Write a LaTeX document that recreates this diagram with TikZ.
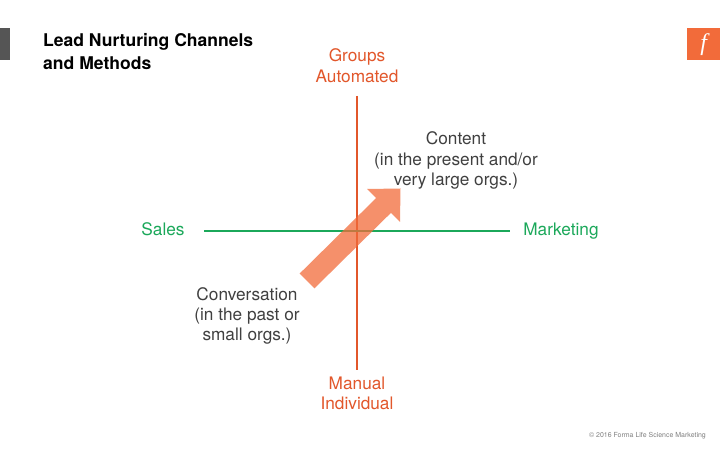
\documentclass[tikz,border=0pt]{standalone}
\usepackage{fontspec}
\setmainfont{TeX Gyre Heros}
\newfontfamily\logofont{Liberation Serif}
\definecolor{axred}{HTML}{E2572B}
\definecolor{axgreen}{HTML}{1BA85A}
\definecolor{txtgray}{HTML}{404040}
\definecolor{arrowor}{HTML}{F26B3A}
\definecolor{bargray}{HTML}{555555}
\tikzset{
  lblfont/.style={font=\fontsize{17.3}{20.5}\selectfont},
  redlbl/.style={lblfont, text=axred, align=center, inner sep=0pt},
  greenlbl/.style={lblfont, text=axgreen, inner sep=0pt, anchor=base},
  graylbl/.style={lblfont, text=txtgray, align=center, inner sep=0pt},
  redaxis/.style={draw=axred, line width=2pt},
  greenaxis/.style={draw=axgreen, line width=2pt},
  bigarrow/.style={fill=arrowor, fill opacity=0.75, draw=none}
}
\begin{document}
\begin{tikzpicture}[x=1bp,y=-1bp]
\useasboundingbox[fill=white] (0,0) rectangle (720,450);
% left bar and logo
\fill[bargray] (0,28) rectangle (10,60);
\node[fill=arrowor, minimum width=33bp, minimum height=32bp, inner sep=0pt, anchor=north west] (logo) at (687,28) {};
\node[text=white, font=\logofont\itshape\fontsize{24}{24}\selectfont, inner sep=0pt] (logof) at (logo.center) {f};
% title
\node[text=black, font=\bfseries\fontsize{17.6}{23}\selectfont, align=left, anchor=north west, inner sep=0pt] (title) at (43,33.5) {Lead Nurturing Channels\\and Methods};
% axes
\coordinate (vtop) at (357,96);
\coordinate (vbot) at (357,370);
\coordinate (hleft) at (204,231);
\coordinate (hright) at (510,231);
\draw[redaxis] (vtop) -- (vbot);
\draw[greenaxis] (hleft) -- (hright);
% arrow
\coordinate (tailc) at (307,281);
\coordinate (tip) at (400.5,188.5);
\fill[bigarrow] (299.6,273.6) -- (376.1,198.1) -- (367,189) -- (tip) -- (400,222) -- (390.9,212.9) -- (314.4,288.4) -- cycle;
% labels
\node[redlbl] (top) at (357,65.5) {Groups\\Automated};
\node[redlbl] (bottom) at (357,393.5) {Manual\\Individual};
\node[greenlbl] (sales) at (163,236) {Sales};
\node[greenlbl] (mkt) at (561,236) {Marketing};
\node[graylbl] (content) at (456,160.5) {Content\\(in the present and/or\\very large orgs.)};
\node[graylbl] (conv) at (247,316) {Conversation\\(in the past or\\small orgs.)};
\node[text=gray, font=\fontsize{7}{8}\selectfont, anchor=east, inner sep=0pt] (copy) at (706,436) {\textcopyright{} 2016 Forma Life Science Marketing};
\end{tikzpicture}
\end{document}
